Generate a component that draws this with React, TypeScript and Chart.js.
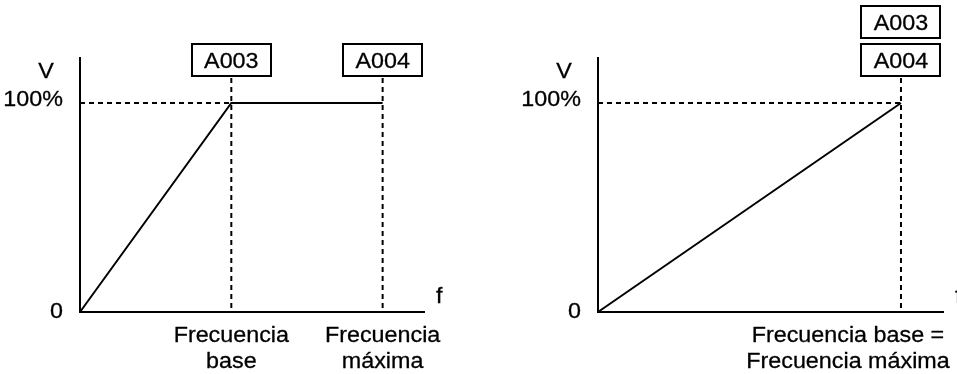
import React, { useEffect, useRef } from "react";
import { Chart, registerables } from "chart.js";

Chart.register(...registerables);

// ---------- data ----------
const yTickLabels = ["0", "100%"];
const yAxisLabel = "V";
const xAxisLabel = "f";

// left: constant torque pattern (base < max)
const leftFreq = [0, 1, 2];
const leftVolt = [0, 100, 100];
const leftMarkers = [1, 2];
const leftBoxes = ["A003", "A004"];
const leftXLabels = [
  ["Frecuencia", "base"],
  ["Frecuencia", "máxima"],
];
const leftXMax = 2.28;

// right: base = max
const rightFreq = [0, 1];
const rightVolt = [0, 100];
const rightMarkers = [1];
const rightBoxStack = ["A003", "A004"]; // top to bottom
const rightXLabel = ["Frecuencia base =", "Frecuencia máxima"];
const rightXMax = 1.142;

const yMax = 122;
const dashTop = 112;
const fullV = 100;

// ---------- drawing helpers ----------
const FONT = '22px "Liberation Sans", Arial, sans-serif';
const SX = 1.06;

function txt(ctx: CanvasRenderingContext2D, s: string, x: number, y: number, align: CanvasTextAlign) {
  ctx.save();
  ctx.translate(x, y);
  ctx.scale(SX, 1);
  ctx.textAlign = align;
  ctx.textBaseline = "alphabetic";
  ctx.lineWidth = 0.3;
  ctx.lineJoin = "round";
  ctx.strokeStyle = "#000";
  ctx.fillText(s, 0, 0);
  ctx.strokeText(s, 0, 0);
  ctx.restore();
}

type LabelOpts = {
  boxes: { x: number; row: number; text: string }[];
  xLabels: { x: number; dx: number; lines: string[] }[];
};

const labelPlugin = {
  id: "vfLabels",
  afterDatasetsDraw(chart: any, _args: any, opts: LabelOpts) {
    const { ctx, chartArea } = chart;
    const xs = chart.scales.x;
    const ys = chart.scales.y;
    const x0 = xs.getPixelForValue(0);
    const y0 = ys.getPixelForValue(0);
    const y100 = ys.getPixelForValue(fullV);
    ctx.save();
    ctx.fillStyle = "#000";
    ctx.strokeStyle = "#000";
    ctx.font = FONT;
    txt(ctx, yAxisLabel, x0 - 34, chartArea.top + 21, "center");
    txt(ctx, yTickLabels[1], x0 - 17, y100 + 3, "right");
    txt(ctx, yTickLabels[0], x0 - 17, y0 + 6, "right");
    txt(ctx, xAxisLabel, xs.right + 11, y0 - 9, "left");

    for (const b of opts.boxes || []) {
      const cx = xs.getPixelForValue(b.x);
      const top = chartArea.top - 13 - b.row * 38;
      const w = 79;
      const h = 32;
      ctx.lineWidth = 2;
      ctx.strokeRect(Math.round(cx - w / 2), top, w, h);
      txt(ctx, b.text, cx, top + 24, "center");
    }
    for (const l of opts.xLabels || []) {
      const cx = xs.getPixelForValue(l.x) + l.dx;
      l.lines.forEach((s, i) => txt(ctx, s, cx, y0 + 30 + i * 26, "center"));
    }
    ctx.restore();
  },
};

function makeConfig(
  freq: number[],
  volt: number[],
  markers: number[],
  xMax: number,
  padding: { left: number; right: number; top: number; bottom: number },
  labels: LabelOpts
): any {
  const line = (data: any[], width: number, dash: number[] = []) => ({
    data,
    borderColor: "#000",
    borderWidth: width,
    borderDash: dash,
    pointRadius: 0,
    fill: false,
    tension: 0,
    clip: false,
  });
  const datasets = [
    line(
      [
        { x: 0, y: yMax },
        { x: 0, y: 0 },
        { x: xMax, y: 0 },
      ],
      2
    ),
    line(
      freq.map((f, i) => ({ x: f, y: volt[i] })),
      2
    ),
    line(
      [
        { x: 0, y: fullV },
        { x: markers[0], y: fullV },
      ],
      2,
      [5, 4]
    ),
    ...markers.map((m) =>
      line(
        [
          { x: m, y: dashTop },
          { x: m, y: 0 },
        ],
        2,
        [5, 4]
      )
    ),
  ];
  return {
    type: "line",
    data: { datasets },
    options: {
      animation: false,
      responsive: false,
      maintainAspectRatio: false,
      events: [],
      layout: { padding },
      scales: {
        x: { type: "linear", min: 0, max: xMax, display: false },
        y: { type: "linear", min: 0, max: yMax, display: false },
      },
      plugins: {
        legend: { display: false },
        tooltip: { enabled: false },
        vfLabels: labels,
      },
    },
    plugins: [labelPlugin],
  };
}

export default function App() {
  const leftRef = useRef<HTMLCanvasElement>(null);
  const rightRef = useRef<HTMLCanvasElement>(null);

  useEffect(() => {
    const left = new Chart(
      leftRef.current!,
      makeConfig(
        leftFreq,
        leftVolt,
        leftMarkers,
        leftXMax,
        { left: 80, right: 55, top: 57, bottom: 62 },
        {
          boxes: leftMarkers.map((m, i) => ({ x: m, row: 0, text: leftBoxes[i] })),
          xLabels: leftMarkers.map((m, i) => ({ x: m, dx: 0, lines: leftXLabels[i] })),
        }
      )
    );
    const right = new Chart(
      rightRef.current!,
      makeConfig(
        rightFreq,
        rightVolt,
        rightMarkers,
        rightXMax,
        { left: 118, right: 13, top: 57, bottom: 62 },
        {
          boxes: rightBoxStack.map((t, i) => ({
            x: rightMarkers[0],
            row: rightBoxStack.length - 1 - i,
            text: t,
          })),
          xLabels: [{ x: rightMarkers[0], dx: -53, lines: rightXLabel }],
        }
      )
    );
    return () => {
      left.destroy();
      right.destroy();
    };
  }, []);

  return (
    <div
      style={{
        position: "absolute",
        left: 0,
        top: 0,
        width: 957,
        height: 374,
        background: "#fff",
        overflow: "hidden",
      }}
    >
      <canvas
        ref={leftRef}
        width={480}
        height={374}
        style={{ position: "absolute", left: 0, top: 0, width: 480, height: 374 }}
      />
      <canvas
        ref={rightRef}
        width={477}
        height={374}
        style={{ position: "absolute", left: 480, top: 0, width: 477, height: 374 }}
      />
    </div>
  );
}
